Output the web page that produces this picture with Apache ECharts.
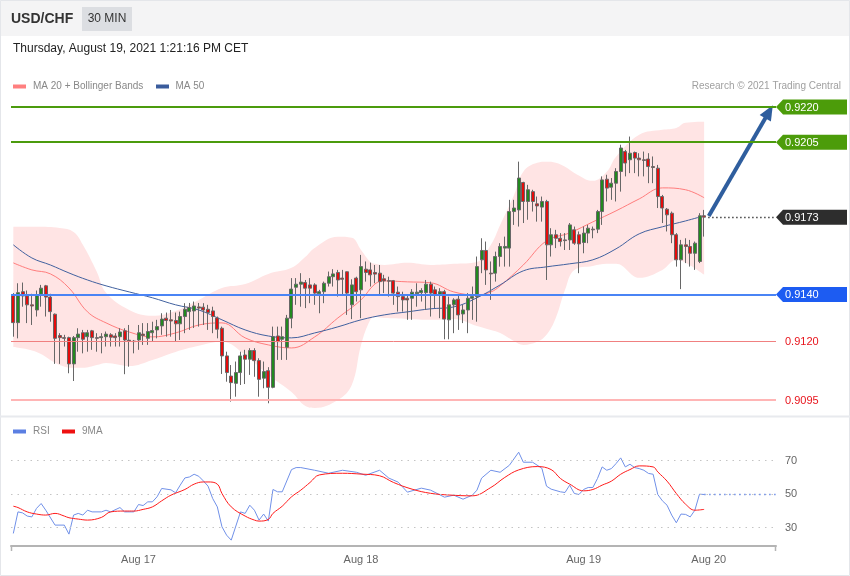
<!DOCTYPE html>
<html>
<head>
<meta charset="utf-8">
<script src="https://cdn.jsdelivr.net/npm/echarts@6/dist/echarts.min.js"></script>
<style>
html,body{margin:0;padding:0;background:#ffffff;}
#c{width:850px;height:576px;}
</style>
</head>
<body>
<div id="c"></div>
<script>
// ---------------- DATA ----------------
const opens = [0.91398,0.91280,0.91412,0.91394,0.91356,0.91334,0.91401,0.91437,0.91389,0.91316,
0.91225,0.91216,0.91216,0.91104,0.91216,0.91237,0.91220,0.91245,0.91216,0.91216,
0.91220,0.91228,0.91223,0.91220,0.91245,0.91205,0.91201,0.91206,0.91231,0.91213,
0.91237,0.91249,0.91266,0.91299,0.91292,0.91289,0.91275,0.91306,0.91327,0.91330,
0.91347,0.91346,0.91337,0.91330,0.91300,0.91256,0.91138,0.91052,0.91021,0.91067,
0.91142,0.91124,0.91161,0.91118,0.91043,0.91075,0.91004,0.91223,0.91209,0.91175,
0.91299,0.91431,0.91444,0.91451,0.91441,0.91441,0.91403,0.91412,0.91448,0.91476,
0.91494,0.91470,0.91497,0.91356,0.91470,0.91420,0.91508,0.91505,0.91494,0.91491,
0.91467,0.91459,0.91459,0.91410,0.91391,0.91384,0.91384,0.91403,0.91408,0.91408,
0.91444,0.91420,0.91398,0.91412,0.91292,0.91356,0.91380,0.91317,0.91334,0.91384,
0.91391,0.91548,0.91588,0.91491,0.91491,0.91562,0.91598,0.91598,0.91754,0.91761,
0.91878,0.91797,0.91839,0.91787,0.91773,0.91797,0.91612,0.91655,0.91640,0.91633,
0.91633,0.91676,0.91655,0.91622,0.91662,0.91679,0.91679,0.91754,0.91892,0.91858,
0.91875,0.91925,0.92010,0.91975,0.92006,0.91982,0.91975,0.91978,0.91946,0.91939,
0.91818,0.91764,0.91747,0.91655,0.91548,0.91612,0.91605,0.91576,0.91541,0.91736];
const closes = [0.91280,0.91408,0.91394,0.91356,0.91351,0.91398,0.91427,0.91389,0.91327,0.91213,
0.91216,0.91213,0.91104,0.91216,0.91231,0.91209,0.91237,0.91216,0.91213,0.91220,
0.91231,0.91218,0.91216,0.91240,0.91206,0.91202,0.91199,0.91237,0.91225,0.91242,
0.91246,0.91263,0.91295,0.91289,0.91287,0.91275,0.91306,0.91337,0.91344,0.91351,
0.91342,0.91334,0.91323,0.91306,0.91252,0.91138,0.91067,0.91024,0.91067,0.91138,
0.91124,0.91161,0.91118,0.91038,0.91071,0.91004,0.91220,0.91199,0.91220,0.91299,
0.91423,0.91444,0.91453,0.91427,0.91427,0.91406,0.91412,0.91448,0.91476,0.91488,
0.91462,0.91465,0.91406,0.91441,0.91412,0.91519,0.91494,0.91484,0.91487,0.91455,
0.91458,0.91457,0.91406,0.91391,0.91377,0.91377,0.91410,0.91410,0.91417,0.91444,
0.91406,0.91398,0.91412,0.91295,0.91356,0.91377,0.91313,0.91334,0.91384,0.91391,
0.91519,0.91588,0.91505,0.91488,0.91562,0.91605,0.91605,0.91754,0.91769,0.91897,
0.91797,0.91847,0.91797,0.91778,0.91797,0.91612,0.91655,0.91640,0.91626,0.91630,
0.91697,0.91619,0.91616,0.91662,0.91683,0.91676,0.91754,0.91889,0.91854,0.91875,
0.91925,0.92025,0.91961,0.92003,0.91982,0.91975,0.91972,0.91946,0.91942,0.91818,
0.91769,0.91740,0.91655,0.91548,0.91612,0.91605,0.91576,0.91619,0.91736,0.91730];
const lows = [0.91220,0.91213,0.91348,0.91278,0.91270,0.91306,0.91348,0.91306,0.91284,0.91104,
0.91104,0.91178,0.91064,0.91031,0.91156,0.91149,0.91156,0.91164,0.91156,0.91149,
0.91178,0.91178,0.91178,0.91178,0.91060,0.91092,0.91149,0.91164,0.91185,0.91185,
0.91199,0.91213,0.91228,0.91220,0.91220,0.91199,0.91206,0.91235,0.91249,0.91257,
0.91263,0.91270,0.91249,0.91235,0.91213,0.91061,0.91028,0.90943,0.90964,0.91014,
0.91018,0.91057,0.91049,0.90964,0.91000,0.90936,0.91000,0.91121,0.91121,0.91121,
0.91256,0.91356,0.91348,0.91342,0.91363,0.91356,0.91320,0.91363,0.91434,0.91434,
0.91391,0.91398,0.91313,0.91295,0.91370,0.91299,0.91455,0.91434,0.91448,0.91398,
0.91406,0.91391,0.91356,0.91327,0.91327,0.91292,0.91292,0.91348,0.91370,0.91334,
0.91306,0.91342,0.91299,0.91209,0.91209,0.91235,0.91249,0.91278,0.91235,0.91292,
0.91284,0.91491,0.91441,0.91377,0.91455,0.91519,0.91519,0.91519,0.91697,0.91690,
0.91705,0.91719,0.91754,0.91711,0.91711,0.91462,0.91562,0.91598,0.91605,0.91590,
0.91590,0.91612,0.91491,0.91576,0.91619,0.91640,0.91662,0.91697,0.91797,0.91804,
0.91797,0.91839,0.91904,0.91918,0.91918,0.91904,0.91904,0.91875,0.91875,0.91769,
0.91705,0.91669,0.91619,0.91519,0.91423,0.91534,0.91519,0.91505,0.91534,0.91647];
const highs = [0.91406,0.91448,0.91451,0.91417,0.91403,0.91417,0.91441,0.91441,0.91403,0.91319,
0.91235,0.91228,0.91220,0.91223,0.91256,0.91249,0.91249,0.91249,0.91235,0.91235,
0.91242,0.91235,0.91235,0.91256,0.91256,0.91270,0.91206,0.91270,0.91278,0.91278,
0.91284,0.91292,0.91320,0.91323,0.91334,0.91323,0.91327,0.91363,0.91364,0.91370,
0.91364,0.91363,0.91356,0.91348,0.91306,0.91263,0.91156,0.91099,0.91114,0.91156,
0.91164,0.91171,0.91171,0.91128,0.91114,0.91090,0.91263,0.91263,0.91263,0.91313,
0.91470,0.91470,0.91491,0.91462,0.91470,0.91448,0.91420,0.91455,0.91498,0.91508,
0.91505,0.91505,0.91498,0.91465,0.91476,0.91569,0.91541,0.91536,0.91526,0.91526,
0.91484,0.91476,0.91462,0.91434,0.91412,0.91398,0.91423,0.91448,0.91427,0.91462,
0.91455,0.91434,0.91427,0.91420,0.91391,0.91384,0.91398,0.91356,0.91406,0.91434,
0.91562,0.91640,0.91626,0.91541,0.91583,0.91619,0.91647,0.91804,0.91804,0.91967,
0.91881,0.91868,0.91847,0.91818,0.91818,0.91804,0.91683,0.91676,0.91662,0.91662,
0.91705,0.91690,0.91669,0.91690,0.91697,0.91690,0.91761,0.91904,0.91911,0.91897,
0.91939,0.92039,0.92017,0.92074,0.92010,0.92003,0.92010,0.92003,0.91989,0.91953,
0.91825,0.91769,0.91754,0.91662,0.91633,0.91640,0.91633,0.91626,0.91747,0.91761];

const ma20Idx = [0,4,8,12,16,20,25,30,35,40,45,50,55,60,65,70,75,78,80,85,90,95,100,103,105,110,115,120,125,130,135,140,145,149];
const ma20Val = [0.91535,0.91505,0.91488,0.91428,0.91326,0.91279,0.91240,0.91219,0.91236,0.91270,0.91279,0.91215,0.91185,0.91172,0.91219,0.91300,0.91377,0.91445,0.91458,0.91454,0.91450,0.91411,0.91398,0.91411,0.91437,0.91526,0.91629,0.91663,0.91710,0.91757,0.91808,0.91855,0.91847,0.91813];
const ma50Idx = [0,4,8,12,16,20,25,30,35,40,45,50,55,60,65,70,75,80,85,90,95,100,105,110,115,120,125,130,135,140,145,149];
const ma50Val = [0.91612,0.91556,0.91526,0.91492,0.91462,0.91437,0.91411,0.91386,0.91356,0.91334,0.91292,0.91249,0.91223,0.91215,0.91236,0.91262,0.91292,0.91313,0.91326,0.91339,0.91347,0.91386,0.91441,0.91501,0.91518,0.91531,0.91548,0.91595,0.91659,0.91689,0.91714,0.91736];
const bbIdx = [0,5,10,13,15,18,20,25,30,35,40,45,50,55,60,63,65,70,73,75,77,78,80,85,90,95,100,103,105,108,110,113,115,117,119,121,125,128,130,135,140,143,145,149];
const bbUpper = [0.91689,0.91689,0.91684,0.91667,0.91612,0.91497,0.91407,0.91334,0.91309,0.91330,0.91377,0.91428,0.91445,0.91488,0.91514,0.91561,0.91599,0.91646,0.91642,0.91590,0.91539,0.91531,0.91526,0.91535,0.91526,0.91531,0.91539,0.91612,0.91697,0.91825,0.91924,0.91962,0.91966,0.91962,0.91945,0.91919,0.91885,0.91924,0.91988,0.92082,0.92103,0.92111,0.92133,0.92137];
const bbLower = [0.91176,0.91155,0.91099,0.91087,0.91087,0.91099,0.91108,0.91095,0.91121,0.91155,0.91181,0.91198,0.91142,0.91057,0.90984,0.90924,0.90916,0.90950,0.91014,0.91185,0.91292,0.91304,0.91300,0.91296,0.91292,0.91296,0.91266,0.91249,0.91236,0.91202,0.91185,0.91198,0.91228,0.91300,0.91420,0.91505,0.91522,0.91531,0.91531,0.91471,0.91505,0.91548,0.91535,0.91484];

const rsiIdx = [0,1,2,3,4,5,6,7,9,11,12,13,14,15,16,17,19,20,21,23,24,26,27,28,29,30,31,32,34,35,36,37,38,39,40,41,42,43,44,45,46,47,49,50,51,52,53,54,55,56,57,58,60,61,62,65,68,71,74,76,79,81,83,85,88,90,93,95,97,99,100,101,103,105,107,109,110,112,114,115,116,118,119,120,121,122,123,124,125,126,127,128,129,130,131,132,133,134,135,136,137,138,139,140,141,142,143,144,145,146,147,148,149];
const rsiVal = [26.5,39.4,38.8,36.9,36.4,41.5,44.4,40.4,31.5,31.5,26.1,37.5,38.5,37.5,40.4,39.4,39.4,40.4,39.4,42.0,39.4,39.4,43.8,43.2,45.4,45.4,48.4,53.4,52.6,50.8,55.4,59.7,60.3,61.9,60.7,57.9,54.8,47.4,42.4,30.5,25.5,22.5,39.4,38.5,43.4,40.4,34.5,38.1,33.9,52.8,51.4,51.4,64.7,65.9,65.9,64.3,62.5,64.3,63.1,61.3,64.3,59.6,57.2,51.2,53.6,52.4,48.2,49.4,47.0,49.4,52.4,59.6,64.3,63.1,67.3,75.1,69.1,69.1,65.5,54.8,53.0,51.4,51.0,55.4,50.4,49.8,52.8,54.0,54.0,59.4,66.3,64.3,65.3,68.3,71.7,66.3,67.9,65.9,65.3,64.3,62.4,61.9,49.8,46.0,43.4,37.5,32.9,38.1,37.9,36.4,40.4,50.0,49.8];
const ma9Idx = [0,1,3,5,7,9,11,12,14,16,19,21,24,26,28,30,32,34,37,39,41,42,44,45,47,50,52,53,55,56,58,60,62,64,66,71,75,79,82,86,90,94,99,103,106,109,113,116,118,120,123,125,127,129,131,133,135,138,139,141,143,145,147,149];
const ma9Val = [42.8,42.0,39.4,38.1,37.5,38.5,36.9,35.9,35.1,34.5,36.1,39.4,39.9,39.9,40.9,42.4,46.0,49.4,52.8,56.0,57.3,57.3,56.0,50.4,42.4,36.9,34.5,33.9,34.9,38.5,42.8,48.4,52.4,57.0,61.5,62.5,62.0,61.0,57.0,53.0,50.5,49.5,49.0,54.0,60.0,64.5,66.5,64.7,59.4,56.0,52.0,52.8,55.4,57.8,61.9,64.7,66.9,66.3,63.3,57.8,50.4,44.0,40.4,40.9];

const xTickIdx = [27, 75, 123, 150];
const xTickText = ['Aug 17', 'Aug 18', 'Aug 19', 'Aug 20'];
const rsiLevels = [70, 50, 30];
const levelVals = [0.9220, 0.9205, 0.9140, 0.9120, 0.9095];
const currentPrice = 0.9173;
const tagLevels = [0.9220, 0.9205, 0.9173, 0.9140];
const textLevels = [0.9120, 0.9095];
const arrowFrom = [150, 0.91735];
const arrowTo = [163, 0.92180];

// ---------------- CHART ----------------
const FONT = '"Liberation Sans", Arial, Helvetica, sans-serif';
const N = 165;
const cats = [];
for (let i = 0; i < N; i++) cats.push('c' + i);
const candleData = opens.map((o, i) => [o, closes[i], lows[i], highs[i]]);
const pairs = (idx, val) => idx.map((x, k) => [x, val[k]]);
const bbWidth = bbUpper.map((u, k) => +(u - bbLower[k]).toFixed(6));

const chart = echarts.init(document.getElementById('c'), null, {renderer: 'canvas'});

const levelStyles = [
  {color: '#4b9b0d', width: 2},
  {color: '#4b9b0d', width: 2},
  {color: '#4a84f5', width: 2},
  {color: '#f08080', width: 1},
  {color: '#ffb5b5', width: 2}
];

const option = {
  animation: false,
  grid: [
    {left: 11, right: 74, top: 95.3, height: 316.4},
    {left: 11, right: 74, top: 444, height: 102}
  ],
  xAxis: [
    {type: 'category', data: cats, gridIndex: 0, boundaryGap: true, show: false},
    {type: 'category', data: cats, gridIndex: 1, boundaryGap: true,
      axisLine: {show: true, lineStyle: {color: '#b4b4b4', width: 2}},
      axisTick: {show: false},
      splitLine: {show: false},
      axisLabel: {interval: 0, color: '#666', fontSize: 11, fontFamily: FONT, margin: 8,
        formatter: function (v, i) { const k = xTickIdx.indexOf(i); return k >= 0 ? xTickText[k] : ''; }}
    }
  ],
  yAxis: [
    {type: 'value', gridIndex: 0, min: 0.9090, max: 0.9225, show: false},
    {type: 'value', gridIndex: 1, min: 19, max: 80, show: false}
  ],
  series: [
    {name: 'bbLow', type: 'line', xAxisIndex: 0, yAxisIndex: 0, stack: 'bb', smooth: 0.4,
      symbol: 'none', silent: true, lineStyle: {opacity: 0}, data: pairs(bbIdx, bbLower), z: 1},
    {name: 'bbBand', type: 'line', xAxisIndex: 0, yAxisIndex: 0, stack: 'bb', smooth: 0.4,
      symbol: 'none', silent: true, lineStyle: {opacity: 0},
      areaStyle: {color: '#ffe4e4', opacity: 1}, data: pairs(bbIdx, bbWidth), z: 1},
    {name: 'MA 20', type: 'line', xAxisIndex: 0, yAxisIndex: 0, smooth: 0.4, symbol: 'none', silent: true,
      lineStyle: {color: '#ff7d7d', width: 1}, data: pairs(ma20Idx, ma20Val), z: 2},
    {name: 'MA 50', type: 'line', xAxisIndex: 0, yAxisIndex: 0, smooth: 0.4, symbol: 'none', silent: true,
      lineStyle: {color: '#41619f', width: 1}, data: pairs(ma50Idx, ma50Val), z: 2,
      markLine: {silent: true, symbol: ['none', 'triangle'], symbolSize: [13, 15], precision: 6, label: {show: false},
        lineStyle: {color: '#2f5e9e', width: 4, type: 'solid'},
        data: [[{coord: arrowFrom}, {coord: arrowTo}]]}
    },
    {name: 'USD/CHF', type: 'candlestick', xAxisIndex: 0, yAxisIndex: 0, barWidth: 3.5, silent: true,
      itemStyle: {color: '#22891f', color0: '#e50b0b', borderColor: '#676767', borderColor0: '#676767', borderWidth: 1},
      data: candleData, z: 3},
    {name: 'RSI', type: 'line', xAxisIndex: 1, yAxisIndex: 1, symbol: 'none', silent: true,
      lineStyle: {color: '#7090e8', width: 1}, data: pairs(rsiIdx, rsiVal), z: 3,
      markLine: {silent: true, symbol: 'none',
        lineStyle: {color: '#c4c4c4', width: 1, type: [1.5, 5]},
        label: {show: true, position: 'end', distance: 9, color: '#666', fontSize: 11, fontFamily: FONT, formatter: '{c}'},
        data: rsiLevels.map(v => ({yAxis: v}))}
    },
    {name: '9MA', type: 'line', xAxisIndex: 1, yAxisIndex: 1, smooth: 0.4, symbol: 'none', silent: true,
      lineStyle: {color: '#ff1a1a', width: 1}, data: pairs(ma9Idx, ma9Val), z: 3}
  ]
};
chart.setOption(option);

// ---------------- ANNOTATIONS (positions via the chart scales) ----------------
const pix = (gi, i, v) => chart.convertToPixel({gridIndex: gi}, [i, v]);
const RIGHT = 776, LEFT = 11;
function txt(x, y, text, fill, font, align) {
  return {type: 'text', silent: true, z: 100,
    style: {x: x, y: y, text: text, fill: fill, font: font, align: align || 'left', verticalAlign: 'middle',
      textAlign: align || 'left', textVerticalAlign: 'middle'}};
}
const g = [];
g.push({type: 'rect', silent: true, z: 0, shape: {x: 0, y: 0, width: 850, height: 36}, style: {fill: '#f4f4f5'}});
g.push({type: 'rect', silent: true, z: 0, shape: {x: 0.5, y: 0.5, width: 849, height: 575}, style: {fill: 'none', stroke: '#e4e6ea', lineWidth: 1}});
g.push({type: 'line', silent: true, z: 0, shape: {x1: 0, y1: 416.5, x2: 850, y2: 416.5}, style: {stroke: '#e8eaee', lineWidth: 2}});
g.push(txt(11, 19, 'USD/CHF', '#333', 'bold 14px ' + FONT));
g.push({type: 'rect', silent: true, z: 1, shape: {x: 82, y: 7, width: 50, height: 24}, style: {fill: '#dcdee2'}});
g.push(txt(107, 19, '30 MIN', '#333', '12px ' + FONT, 'center'));
g.push(txt(13, 49, 'Thursday, August 19, 2021 1:21:16 PM CET', '#222', '12px ' + FONT));
g.push({type: 'rect', silent: true, shape: {x: 13, y: 84.5, width: 13, height: 4}, style: {fill: '#ff7f7f'}});
g.push(txt(33, 86.5, 'MA 20 + Bollinger Bands', '#888', '10px ' + FONT));
g.push({type: 'rect', silent: true, shape: {x: 156, y: 84.5, width: 13, height: 4}, style: {fill: '#3a5c9c'}});
g.push(txt(175.5, 86.5, 'MA 50', '#888', '10px ' + FONT));
g.push(txt(841, 86.5, 'Research \u00A9 2021 Trading Central', '#a0a0a0', '10px ' + FONT, 'right'));
g.push({type: 'rect', silent: true, shape: {x: 13, y: 429.5, width: 13, height: 4}, style: {fill: '#5b7fe2'}});
g.push(txt(33, 431.5, 'RSI', '#888', '10px ' + FONT));
g.push({type: 'rect', silent: true, shape: {x: 62, y: 429.5, width: 13, height: 4}, style: {fill: '#ee1111'}});
g.push(txt(82, 431.5, '9MA', '#888', '10px ' + FONT));
g.push({type: 'line', silent: true, shape: {x1: 11.5, y1: 546, x2: 11.5, y2: 551}, style: {stroke: '#b4b4b4', lineWidth: 1.5}});
g.push({type: 'line', silent: true, shape: {x1: 775.5, y1: 546, x2: 775.5, y2: 551}, style: {stroke: '#b4b4b4', lineWidth: 1.5}});
// horizontal level lines
levelVals.forEach((v, k) => {
  const s = levelStyles[k];
  let y = pix(0, 0, v)[1];
  y = s.width % 2 === 1 ? Math.round(y - 0.5) + 0.5 : Math.round(y);
  g.push({type: 'line', silent: true, z: 40, shape: {x1: LEFT, y1: y, x2: RIGHT, y2: y},
    style: {stroke: s.color, lineWidth: s.width}});
});
const lastIdx = closes.length - 1;
const cp = pix(0, lastIdx, currentPrice);
g.push({type: 'line', silent: true, z: 50, shape: {x1: cp[0] + 4, y1: Math.round(cp[1]) + 0.5, x2: RIGHT, y2: Math.round(cp[1]) + 0.5},
  style: {stroke: '#444', lineWidth: 1.5, lineDash: [1.5, 2.5]}});
const rp = pix(1, rsiIdx[rsiIdx.length - 1], rsiVal[rsiVal.length - 1]);
g.push({type: 'line', silent: true, z: 50, shape: {x1: rp[0], y1: rp[1], x2: RIGHT, y2: rp[1]},
  style: {stroke: '#7090e8', lineWidth: 1.5, lineDash: [1.5, 3.5]}});
const tagColors = ['#4c9c0a', '#4c9c0a', '#2d2d2d', '#1d5cf2'];
tagLevels.forEach((v, k) => {
  const y = pix(0, 0, v)[1];
  g.push({type: 'polygon', silent: true, z: 60,
    shape: {points: [[RIGHT, y], [783, y - 7.5], [847, y - 7.5], [847, y + 7.5], [783, y + 7.5]]},
    style: {fill: tagColors[k]}});
  g.push(Object.assign(txt(785, y + 0.5, v.toFixed(4), '#ffffff', '11px ' + FONT), {z: 61}));
});
textLevels.forEach(v => {
  const y = pix(0, 0, v)[1];
  g.push(txt(785, y + 0.5, v.toFixed(4), '#e8141c', '11px ' + FONT));
});
chart.setOption({graphic: {elements: g}});
</script>
</body>
</html>
